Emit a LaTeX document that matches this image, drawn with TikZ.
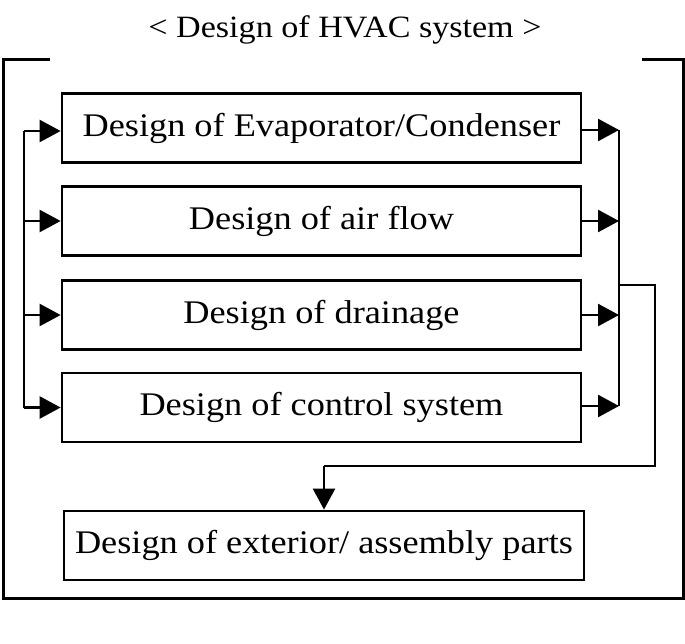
\documentclass[tikz,border=0pt]{standalone}
\usepackage{fontspec}
\setmainfont{Liberation Serif}[FakeStretch=1.1]
\usetikzlibrary{arrows.meta}
\begin{document}
\begin{tikzpicture}[x=1pt,y=-1pt,
  box/.style={draw,line width=2.8pt,minimum width=519pt,minimum height=69pt,inner sep=0pt,
    font=\fontsize{33}{38}\selectfont},
  conn/.style={line width=2.6pt},
  arr/.style={conn,-{Triangle[length=21pt,width=22pt]}},
  frame/.style={line width=3pt}]
\useasboundingbox (0,0) rectangle (685,643);
\node[font=\fontsize{31}{36}\selectfont,anchor=base] (title) at (345,37) {< Design of HVAC system >};
\node[box] (b1) at (321.5,128) {Design of Evaporator/Condenser};
\node[box] (b2) at (321.5,221) {Design of air flow};
\node[box] (b3) at (321.5,315) {Design of drainage};
\node[box] (b4) at (321.5,407.5) {Design of control system};
\node[box,minimum width=520pt] (b5) at (324,545.5) {Design of exterior/ assembly parts};
% outer frame
\coordinate (f1) at (50,59);
\coordinate (f2) at (3,59);
\coordinate (f3) at (3,598);
\coordinate (f4) at (683,598);
\coordinate (f5) at (683,59);
\coordinate (f6) at (642,59);
\draw[frame] (f1) -- (f2) -- (f3) -- (f4) -- (f5) -- (f6);
% left bus
\coordinate (L1) at (24,131);
\coordinate (L2) at (24,221);
\coordinate (L3) at (24,315);
\coordinate (L4) at (24,407.5);
\draw[conn] (L1) -- (L4);
\draw[arr] (L1) -- (b1.west |- L1);
\draw[arr] (L2) -- (b2.west);
\draw[arr] (L3) -- (b3.west);
\draw[arr] (L4) -- (b4.west);
% right bus
\coordinate (R1) at (619,130);
\coordinate (R2) at (619,221);
\coordinate (R3) at (619,315);
\coordinate (R4) at (619,406);
\draw[conn] (R1) -- (R4);
\draw[arr] (b1.east |- R1) -- (R1);
\draw[arr] (b2.east) -- (R2);
\draw[arr] (b3.east) -- (R3);
\draw[arr] (b4.east |- R4) -- (R4);
% branch
\coordinate (B0) at (619,285);
\coordinate (B1) at (655,285);
\coordinate (B2) at (655,466);
\draw[conn] (B0) -- (B1) -- (B2) -- (b5.north |- B2);
\draw[arr] (b5.north |- B2) -- (b5.north);
\end{tikzpicture}
\end{document}
